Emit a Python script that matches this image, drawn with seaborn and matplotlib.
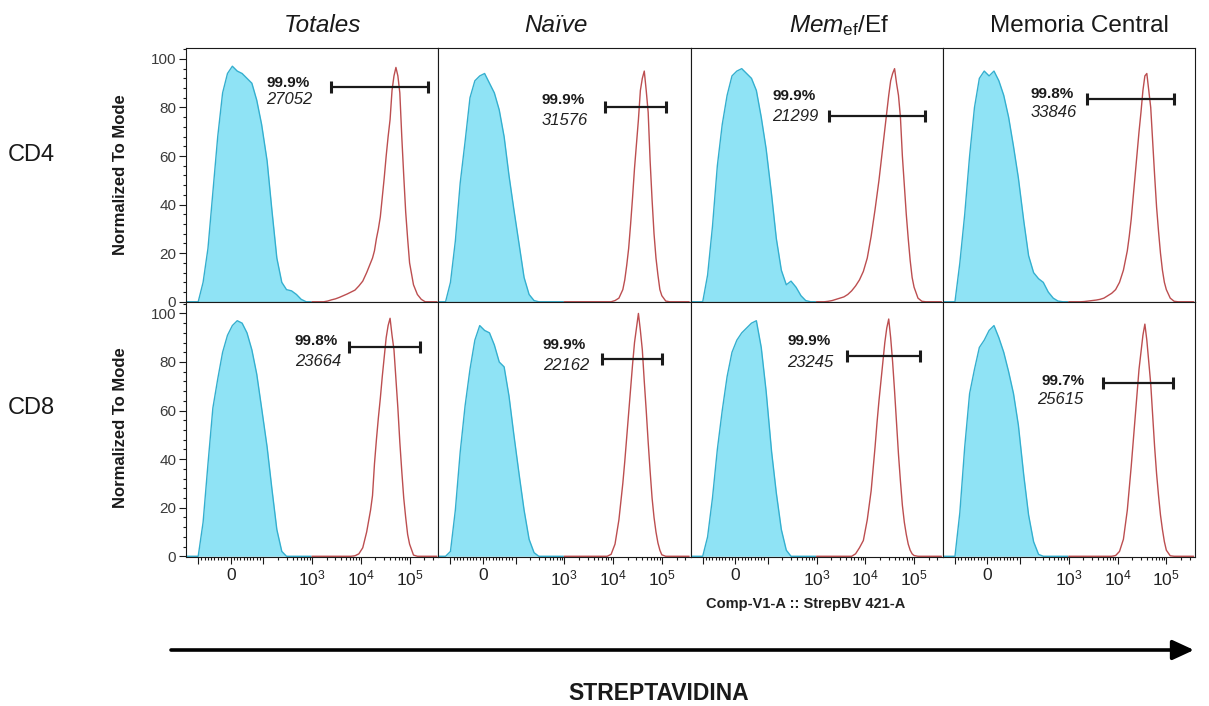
import matplotlib
matplotlib.use("Agg")
import matplotlib.pyplot as plt
import seaborn as sns
from matplotlib.patches import FancyArrowPatch
from matplotlib.ticker import FixedLocator, FixedFormatter

# ---------------------------------------------------------------------------
# Histogram bin centres (fluorescence intensity, StrepBV 421-A)
# ---------------------------------------------------------------------------
CTRL_BINS = [-180, -160, -126, -100, -85, -70, -55, -40, -25, -10, 5, 20, 35,
             50, 65, 80, 95, 120, 150, 190, 240, 300, 380, 480, 600, 760, 960]
STREP_BINS = [1000, 1202, 1445, 1738, 2089, 2512, 3020, 3631, 4365, 5248,
              6310, 7586, 9120, 10965, 13183, 15849, 17378, 19055, 20893,
              22909, 25119, 27542, 30200, 33113, 36308, 39811, 43652, 47863,
              52481, 57544, 63096, 69183, 75858, 83176, 91201, 100000, 120226,
              144544, 173780, 208930, 251189, 301995, 363078]

# Unstained control histograms (% of mode)
CD4_TOTALES_CTRL = [0, 0, 0, 0, 8, 22, 45, 68, 86, 94, 97, 95, 94, 92, 90, 83,
                    73, 58, 38, 18, 8, 5, 4.5, 3, 1, 0, 0]
CD4_NAIVE_CTRL = [0, 0, 0, 8, 25, 49, 66, 84, 91, 93, 94, 90, 86, 79, 68, 52,
                  38, 23, 10, 3, 0.5, 0, 0, 0, 0, 0, 0]
CD4_MEMEF_CTRL = [0, 0, 0, 0, 11, 31, 56, 73, 85, 93, 95, 96, 94, 92, 87, 76,
                  63, 44, 26, 13, 7, 8.5, 6, 2.5, 0.5, 0, 0]
CD4_MC_CTRL = [0, 0, 0, 0, 16, 36, 60, 80, 92, 95, 93, 95, 91, 85, 76, 64, 51,
               33, 19, 12, 9.5, 8, 4, 1.5, 0.3, 0, 0]
CD8_TOTALES_CTRL = [0, 0, 0, 0, 14, 38, 61, 73, 84, 91, 95, 97, 96, 92, 85, 75,
                    61, 45, 28, 11, 2, 0, 0, 0, 0, 0, 0]
CD8_NAIVE_CTRL = [0, 0, 0, 2, 19, 43, 62, 77, 89, 95, 93, 92, 87, 80, 78, 66,
                  50, 33, 19, 7, 1.5, 0, 0, 0, 0, 0, 0]
CD8_MEMEF_CTRL = [0, 0, 0, 0, 8, 24, 44, 60, 74, 84, 89, 92, 94, 96, 97, 86,
                  68, 43, 26, 11, 2.5, 0, 0, 0, 0, 0, 0]
CD8_MC_CTRL = [0, 0, 0, 0, 18, 45, 67, 77, 86, 89, 93, 95, 90, 84, 76, 67, 54,
               33, 17, 6, 0.8, 0, 0, 0, 0, 0, 0]

# Streptavidin-stained histograms (% of mode)
CD4_TOTALES_STREP = [0, 0, 0, 0, 0.3, 0.8, 1.2, 1.8, 2.5, 3.2, 4, 4.8, 6.5,
                     8.5, 12, 16, 18, 21, 26, 30, 35, 43, 51, 60, 68, 75, 87,
                     93, 96.5, 93, 86, 68, 52, 37, 26, 16, 7, 3, 1, 0, 0, 0, 0]
CD4_NAIVE_STREP = [0, 0, 0, 0, 0, 0, 0, 0, 0, 0, 0, 0, 0, 0.5, 1.5, 5, 9, 15,
                   22, 32, 43, 55, 65, 75, 87, 92, 95, 87, 78, 58, 42, 28, 18,
                   11, 5, 2.5, 0.3, 0, 0, 0, 0, 0, 0]
CD4_MEMEF_STREP = [0, 0, 0, 0.2, 0.5, 1, 1.5, 2, 3, 4.5, 6.5, 9, 12.5, 18, 27,
                   38, 44, 50, 57, 64, 71, 78, 85, 91, 94, 96, 90, 85, 76, 60,
                   48, 36, 26, 17, 10, 6, 1.5, 0.2, 0, 0, 0, 0, 0]
CD4_MC_STREP = [0, 0, 0, 0, 0.1, 0.3, 0.5, 0.7, 1, 1.5, 2.5, 3.5, 5, 8, 13, 21,
                27, 34, 43, 52, 61, 70, 78, 87, 93, 94, 87, 80, 66, 52, 39, 29,
                20, 13, 8, 5, 1.5, 0.2, 0, 0, 0, 0, 0]
CD8_TOTALES_STREP = [0, 0, 0, 0, 0, 0, 0, 0, 0, 0, 0, 0.2, 1, 3.5, 10, 19, 25,
                     38, 48, 57, 65, 74, 82, 90, 95, 98, 91, 85, 73, 61, 47,
                     35, 24, 16, 9, 5, 0.5, 0, 0, 0, 0, 0, 0]
CD8_NAIVE_STREP = [0, 0, 0, 0, 0, 0, 0, 0, 0, 0, 0, 0, 0.8, 5, 15, 30, 39, 49,
                   59, 69, 79, 88, 94, 100, 93, 85, 72, 60, 47, 35, 24, 16, 10,
                   5.5, 2.5, 0.6, 0, 0, 0, 0, 0, 0, 0]
CD8_MEMEF_STREP = [0, 0, 0, 0, 0, 0, 0, 0, 0, 0, 1, 3.5, 6.5, 15, 27, 45, 55,
                   64, 72, 80, 88, 94, 97.7, 90, 80, 68, 55, 42, 31, 21, 14, 9,
                   5, 2.5, 1, 0.3, 0, 0, 0, 0, 0, 0, 0]
CD8_MC_STREP = [0, 0, 0, 0, 0, 0, 0, 0, 0, 0, 0, 0, 0.3, 2, 7, 19, 28, 37, 47,
                57, 67, 77, 84, 91, 95.6, 89, 80, 71, 58, 45, 34, 25, 17, 11,
                6, 2.5, 0.2, 0, 0, 0, 0, 0, 0]

ROWS = ["CD4", "CD8"]
COLUMNS = ["Totales", "Naïve", r"$\mathit{Mem}_{\mathrm{ef}}$/Ef", "Memoria Central"]
COLUMN_STYLES = ["italic", "italic", "normal", "normal"]

CTRL = [[CD4_TOTALES_CTRL, CD4_NAIVE_CTRL, CD4_MEMEF_CTRL, CD4_MC_CTRL],
        [CD8_TOTALES_CTRL, CD8_NAIVE_CTRL, CD8_MEMEF_CTRL, CD8_MC_CTRL]]
STREP = [[CD4_TOTALES_STREP, CD4_NAIVE_STREP, CD4_MEMEF_STREP, CD4_MC_STREP],
         [CD8_TOTALES_STREP, CD8_NAIVE_STREP, CD8_MEMEF_STREP, CD8_MC_STREP]]

# Positive gate statistics
PCT_POSITIVE = [["99.9%", "99.9%", "99.9%", "99.8%"],
                ["99.8%", "99.9%", "99.9%", "99.7%"]]
MFI = [[27052, 31576, 21299, 33846],
       [23664, 22162, 23245, 25615]]
GATE_LOW = [[2440, 6870, 1760, 2360], [5770, 6050, 4150, 5010]]
GATE_HIGH = [[236000, 122000, 164000, 146000], [162000, 101000, 130000, 139000]]
GATE_LEVEL = [[88.3, 80, 76.7, 83.6], [86.3, 81.4, 82.5, 71.2]]

X_MAJOR = [-100, 0, 100, 1000, 10000, 100000]
X_MAJOR_LABELS = ["", "0", "", r"$10^{3}$", r"$10^{4}$", r"$10^{5}$"]
Y_MAJOR = [0, 20, 40, 60, 80, 100]

# ---------------------------------------------------------------------------
# Style
# ---------------------------------------------------------------------------
sns.set_theme(style="white")
plt.rcParams["font.family"] = ["Liberation Sans", "DejaVu Sans"]
plt.rcParams["mathtext.fontset"] = "custom"
plt.rcParams["mathtext.rm"] = "Liberation Sans"
plt.rcParams["mathtext.it"] = "Liberation Sans:italic"
plt.rcParams["mathtext.bf"] = "Liberation Sans:bold"

CYAN_FILL = "#8FE3F5"
CYAN_EDGE = "#34AFCF"
RED_LINE = "#BC4E50"
INK = "#1a1a1a"

# label anchor positions inside each panel (axes fraction)
PCT_XY = [[(0.319, 0.862), (0.408, 0.795), (0.324, 0.812), (0.347, 0.821)],
          [(0.431, 0.850), (0.415, 0.832), (0.383, 0.848), (0.393, 0.693)]]
MFI_XY = [[(0.319, 0.798), (0.408, 0.717), (0.324, 0.732), (0.347, 0.745)],
          [(0.431, 0.769), (0.415, 0.753), (0.383, 0.766), (0.373, 0.618)]]

W, H = 1209, 706
fig = plt.figure(figsize=(W / 100, H / 100), dpi=100)
fig.patch.set_facecolor("white")
gs = fig.add_gridspec(2, 4, left=186 / W, right=1195 / W,
                      top=1 - 48 / H, bottom=1 - 557 / H,
                      wspace=0, hspace=0)

x_minor = ([-k * 10 for k in range(1, 10)] + [k * 10 for k in range(1, 10)] +
           [k * 10 ** e for e in (2, 3, 4) for k in range(2, 10)] +
           [200000, 300000])
y_minor = [v for v in range(0, 105, 4) if v % 20]

for i in range(2):
    for j in range(4):
        ax = fig.add_subplot(gs[i, j])
        ax.set_facecolor("white")

        ax.fill_between(CTRL_BINS, CTRL[i][j], 0, color=CYAN_FILL, lw=0, zorder=1)
        sns.lineplot(x=CTRL_BINS, y=CTRL[i][j], ax=ax, color=CYAN_EDGE,
                     lw=1.0, legend=False, zorder=2)
        sns.lineplot(x=STREP_BINS, y=STREP[i][j], ax=ax, color=RED_LINE,
                     lw=1.0, legend=False, zorder=2)

        # positive gate
        ax.plot([GATE_LOW[i][j], GATE_HIGH[i][j]],
                [GATE_LEVEL[i][j], GATE_LEVEL[i][j]],
                color=INK, lw=1.6, marker="|", markersize=8, mew=2.2,
                solid_capstyle="butt", zorder=3)
        ax.text(*PCT_XY[i][j], PCT_POSITIVE[i][j], transform=ax.transAxes,
                ha="left", va="center", fontsize=11, fontweight="bold",
                color=INK, zorder=4)
        ax.text(*MFI_XY[i][j], f"{MFI[i][j]}", transform=ax.transAxes,
                ha="left", va="center", fontsize=12, style="italic",
                color="#222222", zorder=4)

        ax.set_xscale("symlog", linthresh=100, linscale=0.6)
        ax.set_xlim(-178, 387000)
        ax.set_ylim(-0.3, 104.5)
        ax.set_xlabel("")
        ax.set_ylabel("")

        ax.xaxis.set_major_locator(FixedLocator(X_MAJOR))
        ax.xaxis.set_major_formatter(FixedFormatter(X_MAJOR_LABELS))
        ax.xaxis.set_minor_locator(FixedLocator(x_minor))
        ax.yaxis.set_major_locator(FixedLocator(Y_MAJOR))
        ax.yaxis.set_minor_locator(FixedLocator(y_minor))

        ax.tick_params(which="both", direction="out", color=INK, width=0.8,
                       bottom=(i == 1), labelbottom=(i == 1),
                       left=(j == 0), labelleft=(j == 0),
                       top=False, right=False)
        ax.tick_params(which="major", length=5, pad=2)
        ax.tick_params(which="minor", length=2.5)
        ax.tick_params(axis="x", which="major", labelsize=12.5,
                       labelcolor="#222222", pad=3)
        ax.tick_params(axis="y", which="major", labelsize=11,
                       labelcolor="#3a3a3a")

        for sp in ax.spines.values():
            sp.set_visible(True)
            sp.set_color(INK)
            sp.set_linewidth(0.8)

# column titles
title_x = [322, 556, 839, 1079]
for name, style, x in zip(COLUMNS, COLUMN_STYLES, title_x):
    fig.text(x / W, 1 - 32 / H, name, ha="center", va="baseline",
             fontsize=17.5, style=style, color=INK)

# row labels and y-axis titles
for name, y_lab, y_axis in zip(ROWS, [155, 408], [175, 428]):
    fig.text(31 / W, 1 - y_lab / H, name, ha="center", va="center",
             fontsize=17, color=INK)
    fig.text(120 / W, 1 - y_axis / H, "Normalized To Mode", rotation=90,
             ha="center", va="center", fontsize=12, fontweight="bold",
             color=INK)

# channel name under the third column
fig.text(806 / W, 1 - 604 / H, "Comp-V1-A :: StrepBV 421-A", ha="center",
         va="center", fontsize=10.5, fontweight="bold", color="#222222")

# intensity arrow and caption
arrow = FancyArrowPatch((171 / W, 1 - 650 / H), (1194 / W, 1 - 650 / H),
                        transform=fig.transFigure,
                        arrowstyle="-|>,head_length=1.3,head_width=0.6",
                        mutation_scale=10, lw=2.6, color="black",
                        shrinkA=0, shrinkB=0)
fig.add_artist(arrow)
fig.text(659 / W, 1 - 693 / H, "STREPTAVIDINA", ha="center", va="center",
         fontsize=16.5, fontweight="bold", color=INK)

fig.savefig("out.png", dpi=100, facecolor="white")
